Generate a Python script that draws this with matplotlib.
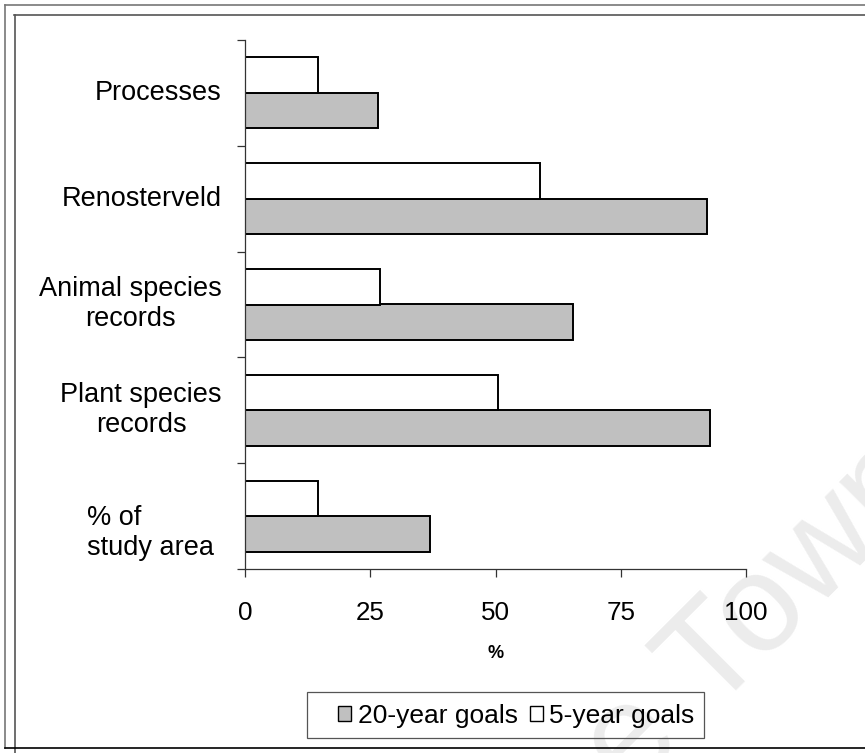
import matplotlib
matplotlib.use("Agg")
import matplotlib.pyplot as plt
from matplotlib.patches import Rectangle
from matplotlib.lines import Line2D

plt.rcParams['font.family'] = ['Liberation Sans', 'DejaVu Sans']

# Categories listed top to bottom
categories = ["Processes", "Renosterveld", "Animal species\nrecords",
              "Plant species\nrecords", "% of\nstudy area"]
goals_20yr = [26.6, 92.2, 65.5, 92.8, 37.0]
goals_5yr = [14.5, 58.9, 26.9, 50.4, 14.5]
xticks = [0, 25, 50, 75, 100]
legend_labels = ["20-year goals", "5-year goals"]

W, H = 865, 753
fig = plt.figure(figsize=(W / 100, H / 100), dpi=100)


def fx(px):
    return px / W


def fy(py):
    return 1 - py / H


ax = fig.add_axes([fx(245), fy(569), fx(746) - fx(245), fy(40) - fy(569)])

n = len(categories)
pos = [n - 1 - i for i in range(n)]  # first category at the top
bh = 0.335
ax.barh([p - bh / 2 for p in pos], goals_20yr, height=bh, color="#c0c0c0",
        edgecolor="black", linewidth=1.4, label=legend_labels[0])
ax.barh([p + bh / 2 for p in pos], goals_5yr, height=bh, color="white",
        edgecolor="black", linewidth=1.4, label=legend_labels[1])

ax.set_xlim(0, 100)
ax.set_ylim(-0.5, n - 0.5)

for s in ("top", "right"):
    ax.spines[s].set_visible(False)
for s in ("left", "bottom"):
    ax.spines[s].set_color("#333333")
    ax.spines[s].set_linewidth(0.9)

ax.set_xticks(xticks)
ax.set_xticklabels([str(v) for v in xticks], fontsize=18.7)
ax.tick_params(axis="x", direction="out", length=6, width=0.9,
               color="#333333", pad=17)
ax.set_yticks([p - 0.5 for p in range(n + 1)])
ax.set_yticklabels([])
ax.tick_params(axis="y", direction="out", length=6, width=0.9, color="#333333")

# Category labels
ytr = ax.get_yaxis_transform()
for cat, p in zip(categories, pos):
    if cat.startswith("%"):
        ax.text(-0.315, p - 0.16, cat, transform=ytr, ha="left", va="center",
                fontsize=19.5, multialignment="left", linespacing=1.2)
    else:
        ax.text(-0.046, p, cat, transform=ytr, ha="right", va="center",
                fontsize=19.5, multialignment="center", linespacing=1.2)

fig.text(fx(496), fy(653), "%", ha="center", va="center", fontsize=13,
         fontweight="bold")

# Legend with its own box
handles = [Rectangle((0, 0), 1, 1, facecolor="#c0c0c0", edgecolor="black", lw=1),
           Rectangle((0, 0), 1, 1, facecolor="white", edgecolor="black", lw=1)]
fig.legend(handles, legend_labels, loc="center left",
           bbox_to_anchor=(fx(338), fy(716)), ncol=2, frameon=False,
           fontsize=19, handlelength=0.5, handleheight=0.5,
           handletextpad=0.25, columnspacing=0.45, borderpad=0,
           borderaxespad=0)
fig.patches.append(Rectangle((fx(307), fy(738)), fx(704) - fx(307),
                             fy(692) - fy(738), transform=fig.transFigure,
                             fill=False, edgecolor="#555555", lw=0.9))

# Page frame lines
frame = [((5, 865), (5, 5), "#777777"), ((5, 5), (5, 748), "#777777"),
         ((14, 865), (15, 15), "#555555"), ((15, 15), (15, 753), "#555555"),
         ((5, 865), (748, 748), "black")]
for xs, ys, c in frame:
    fig.add_artist(Line2D([fx(xs[0]), fx(xs[1])], [fy(ys[0]), fy(ys[1])],
                          transform=fig.transFigure, color=c, lw=1.2))

# Faint watermark
fig.text(fx(450), fy(975), "Cape Town", rotation=45, rotation_mode="anchor",
         ha="left", va="baseline", fontsize=100, color="#ececec", zorder=-5)

fig.savefig("out.png", dpi=100)
